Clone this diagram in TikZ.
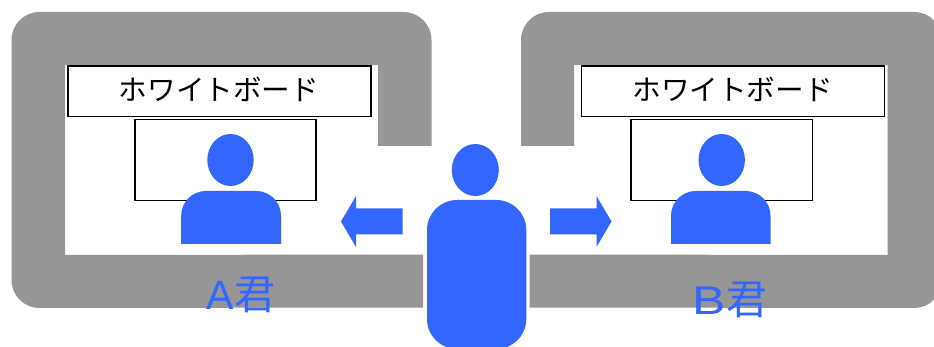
\documentclass[tikz,border=0pt]{standalone}
\usepackage{fontspec}
\setmainfont{Noto Sans CJK JP}
\newfontfamily\latinA{Liberation Sans}
\newfontfamily\latinB[FakeStretch=1.25]{Liberation Sans}
\definecolor{wallgray}{HTML}{969696}
\definecolor{personblue}{HTML}{3366FF}
\tikzset{
  px/.style={x=1pt,y=-1pt},
  wall/.style={fill=wallgray,draw=none},
  person/.style={fill=personblue,draw=none},
  board/.style={draw=black,line width=1.5pt,fill=white},
  boardtext/.style={font=\fontsize{28.6}{28.6}\selectfont,text=black,inner sep=0pt,anchor=center},
  who/.style={font=\fontsize{41}{41}\selectfont,text=personblue,inner sep=0pt,anchor=base}
}
\begin{document}
\begin{tikzpicture}[px]
\useasboundingbox (0,0) rectangle (934,347);
\clip (0,0) rectangle (934,347);
\fill[white] (0,0) rectangle (934,347);
% left room
\path[wall] (431.5,146) -- (431.5,40) .. controls (431.5,24.5) and (419,12) .. (403.5,12) -- (39.5,12) .. controls (24,12) and (11.5,24.5) .. (11.5,40) -- (11.5,280) .. controls (11.5,295.5) and (24,308) .. (39.5,308) -- (423,307.5) -- (423,254.5) -- (65,255) -- (65,65) -- (378,65) -- (378,146) -- cycle;
% right room
\path[wall] (521,146) -- (521,40) .. controls (521,24.5) and (533.5,12) .. (549,12) -- (914,12) .. controls (929.5,12) and (942,24.5) .. (942,40) -- (942,280) .. controls (942,295.5) and (929.5,308) .. (914,308) -- (529.5,307.5) -- (529.5,254.5) -- (887.5,255) -- (887.5,65) -- (574,65) -- (574,146) -- cycle;
% whiteboards
\node[board,boardtext,minimum width=303pt,minimum height=50.5pt] (boardA) at (219.5,91.25) {};
\node[boardtext] (boardAtext) at (219,89) {ホワイトボード};
\node[board,boardtext,minimum width=303pt,minimum height=50.5pt] (boardB) at (733,91.25) {};
\node[boardtext] (boardBtext) at (732.5,89) {ホワイトボード};
% screens
\draw[board] (135,119.5) rectangle (316,200.5);
\draw[board] (631,119.5) rectangle (812.5,200.5);
% persons
\fill[person] (230.5,160) ellipse [x radius=23.2,y radius=26];
\fill[person] (181.2,244) -- (181.2,216) .. controls (181.2,202) and (192,191) .. (206,191) -- (256,191) .. controls (270,191) and (281,202) .. (281,216) -- (281,244) -- cycle;
\fill[person] (721.7,160) ellipse [x radius=23.2,y radius=26];
\fill[person] (671,244) -- (671,216) .. controls (671,202) and (682,191) .. (696,191) -- (745.5,191) .. controls (759.5,191) and (770.5,202) .. (770.5,216) -- (770.5,244) -- cycle;
% centre person
\fill[person] (475.3,170) ellipse [x radius=23.5,y radius=26];
\fill[person,rounded corners=30pt] (427,349) -- (427,200) -- (526.3,200) -- (526.3,349) -- cycle;
% arrows
\fill[person] (402.5,208.5) -- (356,208.5) -- (356,196) -- (341,221.5) -- (356,247) -- (356,234.5) -- (402.5,234.5) -- cycle;
\fill[person] (550,208.5) -- (596.5,208.5) -- (596.5,196) -- (611.5,221.5) -- (596.5,247) -- (596.5,234.5) -- (550,234.5) -- cycle;
% labels
\node[who] (nameA) at (241,309) {{\latinA\fontsize{41}{41}\selectfont A}君};
\node[who] (nameB) at (730,314) {{\latinB\fontsize{40}{40}\selectfont B}君};
\end{tikzpicture}
\end{document}
